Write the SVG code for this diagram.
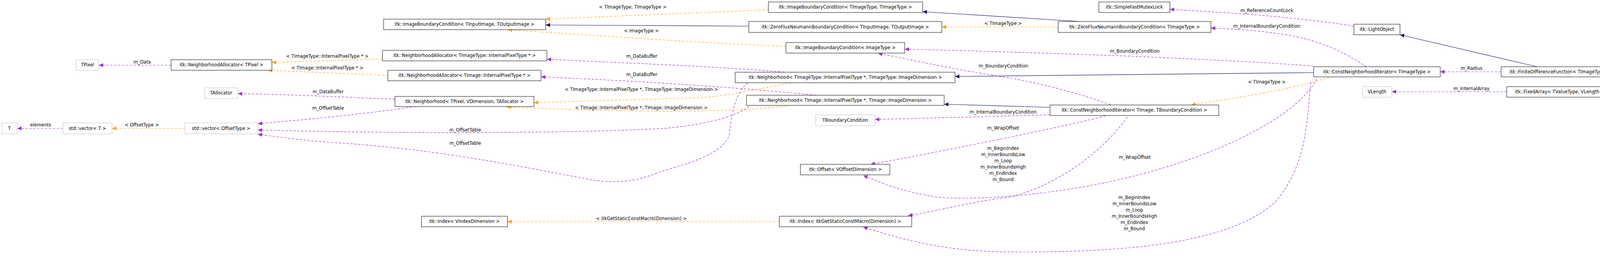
<svg xmlns="http://www.w3.org/2000/svg" width="5133" height="661" viewBox="0 0 5133 661">
<style>
.n rect{fill:#fff;stroke:#000;stroke-width:1}
.g rect{fill:#fff;stroke:#bfbfbf;stroke-width:1}
text{font-family:"DejaVu Sans",sans-serif;font-size:11.5px;fill:#000;text-anchor:middle}
.i{fill:none;stroke:#191970;stroke-width:1.2;marker-end:url(#mi)}
.t{fill:none;stroke:#ffa500;stroke-width:1.2;stroke-dasharray:6,4;marker-end:url(#mt)}
.u{fill:none;stroke:#9a32cd;stroke-width:1.2;stroke-dasharray:6,4;marker-end:url(#mu)}
</style>
<defs>
<marker id="mi" markerWidth="12" markerHeight="10" refX="11" refY="5" orient="auto" markerUnits="userSpaceOnUse"><path d="M0,0L11,5L0,10z" fill="#191970"/></marker>
<marker id="mt" markerWidth="12" markerHeight="10" refX="11" refY="5" orient="auto" markerUnits="userSpaceOnUse"><path d="M0,0L11,5L0,10z" fill="#ffa500"/></marker>
<marker id="mu" markerWidth="12" markerHeight="10" refX="11" refY="5" orient="auto" markerUnits="userSpaceOnUse"><path d="M0,0L11,5L0,10z" fill="#9a32cd"/></marker>
</defs>
<rect width="5133" height="661" fill="#fff"/>
<g id="connectors">
<path class="i" d="M4656,208L4605,208"/>
<path class="i" d="M4346,201L4144,192"/>
<path class="i" d="M3935,171L3584,89"/>
<path class="i" d="M2764,55L2362,30"/>
<path class="i" d="M1917,67L1397,64"/>
<path class="i" d="M3363,186L2445,196"/>
<path class="i" d="M2688,275L2417,267"/>
<path class="t" d="M1967,25L1397,49"/>
<path class="t" d="M2709,69L2411,69"/>
<path class="t" d="M2012,119C1800,110 1500,90 1300,76"/>
<path class="t" d="M979,151L696,160"/>
<path class="t" d="M993,193L686,180"/>
<path class="t" d="M2026,212C1950,225 1900,240 1800,250L1367,263"/>
<path class="t" d="M2021,271C1900,285 1700,292 1297,274"/>
<path class="t" d="M473,329L287,329"/>
<path class="t" d="M1995,568L1299,568"/>
<path class="t" d="M3403,198C3350,215 3250,240 3050,268"/>
<path class="u" d="M438,167L253,167"/>
<path class="u" d="M161,329L44,329"/>
<path class="u" d="M1011,254C900,250 750,242 609,240"/>
<path class="u" d="M1064,273C950,290 800,305 660,317"/>
<path class="u" d="M1914,212C1880,240 1872,300 1868,340C1860,400 1720,430 1690,440C1620,470 1560,470 1500,458C1300,420 1100,380 850,365C780,360 720,352 660,344"/>
<path class="u" d="M1925,266C1890,300 1800,320 1700,329C1400,345 900,340 660,333"/>
<path class="u" d="M2007,185C1900,175 1700,165 1400,152"/>
<path class="u" d="M2089,244C1950,230 1700,210 1385,197"/>
<path class="u" d="M3362,169C3100,150 2700,135 2316,126"/>
<path class="u" d="M2843,268C2750,235 2650,210 2550,194C2400,170 2320,150 2248,137"/>
<path class="u" d="M2687,294C2550,298 2400,302 2240,306"/>
<path class="u" d="M2830,297C2700,330 2400,390 2229,421"/>
<path class="u" d="M2886,300C2800,420 2650,500 2560,508C2450,525 2380,545 2325,552"/>
<path class="u" d="M3372,202C3300,330 3000,450 2700,490C2550,510 2450,510 2400,505C2300,490 2250,465 2210,450"/>
<path class="u" d="M3356,211C3345,300 3350,420 3263,519C3150,620 2900,650 2550,645C2400,640 2300,610 2210,582"/>
<path class="u" d="M3466,67C3300,40 3100,30 2995,24"/>
<path class="u" d="M3498,171C3450,140 3400,110 3300,90C3200,75 3150,74 3100,72"/>
<path class="u" d="M3843,184L3687,184"/>
<path class="u" d="M3857,235L3563,235"/>
<path class="u" d="M4346,220L4130,230"/>
<text x="1620" y="22">&lt; TImageType, TImageType &gt;</text>
<text x="2568" y="64">&lt; TImageType &gt;</text>
<text x="1642" y="83">&lt; ImageType &gt;</text>
<text x="838" y="148">&lt; TImageType::InternalPixelType * &gt;</text>
<text x="838" y="178">&lt; TImage::InternalPixelType * &gt;</text>
<text x="1642" y="233">&lt; TImageType::InternalPixelType *, TImageType::ImageDimension &gt;</text>
<text x="1642" y="280">&lt; TImage::InternalPixelType *, TImage::ImageDimension &gt;</text>
<text x="363" y="324">&lt; OffsetType &gt;</text>
<text x="1642" y="564">&lt; itkGetStaticConstMacro(Dimension) &gt;</text>
<text x="3243" y="214">&lt; TImageType &gt;</text>
<text x="364" y="163">m_Data</text>
<text x="104" y="324">elements</text>
<text x="840" y="239">m_DataBuffer</text>
<text x="840" y="281">m_OffsetTable</text>
<text x="1191" y="337">m_OffsetTable</text>
<text x="1191" y="371">m_OffsetTable</text>
<text x="1643" y="148">m_DataBuffer</text>
<text x="1643" y="195">m_DataBuffer</text>
<text x="2905" y="135">m_BoundaryCondition</text>
<text x="2569" y="173">m_BoundaryCondition</text>
<text x="2568" y="291">m_InternalBoundaryCondition</text>
<text x="2568" y="332">m_WrapOffset</text>
<text x="2568" y="384">m_BeginIndex</text>
<text x="2568" y="400">m_InnerBoundsLow</text>
<text x="2568" y="416">m_Loop</text>
<text x="2568" y="432">m_InnerBoundsHigh</text>
<text x="2568" y="448">m_EndIndex</text>
<text x="2568" y="464">m_Bound</text>
<text x="2905" y="407">m_WrapOffset</text>
<text x="2904" y="510">m_BeginIndex</text>
<text x="2904" y="526">m_InnerBoundsLow</text>
<text x="2904" y="542">m_Loop</text>
<text x="2904" y="558">m_InnerBoundsHigh</text>
<text x="2904" y="574">m_EndIndex</text>
<text x="2904" y="590">m_Bound</text>
<text x="3243" y="31">m_ReferenceCountLock</text>
<text x="3243" y="71">m_InternalBoundaryCondition</text>
<text x="3767" y="179">m_Radius</text>
<text x="3767" y="231">m_InternalArray</text>
<text x="4246" y="217">m_ZeroVectorConstant</text>
</g>
<g id="n_lsfwrt" class="n"><rect x="4656" y="195" width="471" height="26" style="fill:#bfbfbf"/><text x="4891" y="212">itk::LevelSetFunctionWithRefitTerm&lt; TImageType, TSparseImageType &gt;</text></g>
<g id="n_lsf" class="n"><rect x="4346" y="195" width="259" height="26"/><text x="4475" y="212">itk::LevelSetFunction&lt; TImageType &gt;</text></g>
<g id="n_fdf" class="n"><rect x="3843" y="171" width="301" height="26"/><text x="3993" y="188">itk::FiniteDifferenceFunction&lt; TImageType &gt;</text></g>
<g id="n_fixed" class="n"><rect x="3857" y="222" width="273" height="27"/><text x="3993" y="239">itk::FixedArray&lt; TValueType, VLength &gt;</text></g>
<g id="n_vlength" class="g"><rect x="3488" y="222" width="75" height="27"/><text x="3525" y="239">VLength</text></g>
<g id="n_light" class="n"><rect x="3466" y="62" width="118" height="27"/><text x="3525" y="79">itk::LightObject</text></g>
<g id="n_cni" class="n"><rect x="3363" y="171" width="324" height="26"/><text x="3525" y="188">itk::ConstNeighborhoodIterator&lt; TImageType &gt;</text></g>
<g id="n_mutex" class="n"><rect x="2813" y="5" width="182" height="27"/><text x="2904" y="22">itk::SimpleFastMutexLock</text></g>
<g id="n_zfn_t" class="n"><rect x="2709" y="55" width="391" height="28"/><text x="2904" y="73">itk::ZeroFluxNeumannBoundaryCondition&lt; TImageType &gt;</text></g>
<g id="n_cni2" class="n"><rect x="2688" y="269" width="432" height="27"/><text x="2904" y="286">itk::ConstNeighborhoodIterator&lt; TImage, TBoundaryCondition &gt;</text></g>
<g id="n_ibc_tt" class="n"><rect x="1967" y="5" width="395" height="27"/><text x="2164" y="22">itk::ImageBoundaryCondition&lt; TImageType, TImageType &gt;</text></g>
<g id="n_zfn_io" class="n"><rect x="1917" y="55" width="494" height="28"/><text x="2164" y="73">itk::ZeroFluxNeumannBoundaryCondition&lt; TInputImage, TOutputImage &gt;</text></g>
<g id="n_ibc_i" class="n"><rect x="2012" y="109" width="304" height="27"/><text x="2164" y="126">itk::ImageBoundaryCondition&lt; ImageType &gt;</text></g>
<g id="n_nb_tt" class="n"><rect x="1882" y="185" width="563" height="27"/><text x="2164" y="202">itk::Neighborhood&lt; TImageType::InternalPixelType *, TImageType::ImageDimension &gt;</text></g>
<g id="n_nb_ti" class="n"><rect x="1911" y="244" width="506" height="26"/><text x="2164" y="261">itk::Neighborhood&lt; TImage::InternalPixelType *, TImage::ImageDimension &gt;</text></g>
<g id="n_tbc" class="g"><rect x="2088" y="294" width="152" height="28"/><text x="2164" y="312">TBoundaryCondition</text></g>
<g id="n_offset" class="n"><rect x="2049" y="421" width="229" height="27"/><text x="2164" y="438">itk::Offset&lt; VOffsetDimension &gt;</text></g>
<g id="n_index2" class="n"><rect x="1995" y="554" width="339" height="27"/><text x="2164" y="571">itk::Index&lt; itkGetStaticConstMacro(Dimension) &gt;</text></g>
<g id="n_ibc_io" class="n"><rect x="982" y="49" width="415" height="27"/><text x="1189" y="66">itk::ImageBoundaryCondition&lt; TInputImage, TOutputImage &gt;</text></g>
<g id="n_na_tt" class="n"><rect x="979" y="129" width="421" height="27"/><text x="1189" y="146">itk::NeighborhoodAllocator&lt; TImageType::InternalPixelType * &gt;</text></g>
<g id="n_na_ti" class="n"><rect x="993" y="180" width="392" height="27"/><text x="1189" y="197">itk::NeighborhoodAllocator&lt; TImage::InternalPixelType * &gt;</text></g>
<g id="n_nb" class="n"><rect x="1011" y="247" width="356" height="26"/><text x="1189" y="264">itk::Neighborhood&lt; TPixel, VDimension, TAllocator &gt;</text></g>
<g id="n_index" class="n"><rect x="1079" y="554" width="220" height="27"/><text x="1189" y="571">itk::Index&lt; VIndexDimension &gt;</text></g>
<g id="n_na" class="n"><rect x="438" y="153" width="258" height="27"/><text x="567" y="170">itk::NeighborhoodAllocator&lt; TPixel &gt;</text></g>
<g id="n_tpixel" class="g"><rect x="195" y="153" width="58" height="27"/><text x="224" y="170">TPixel</text></g>
<g id="n_talloc" class="g"><rect x="524" y="225" width="85" height="27"/><text x="566" y="242">TAllocator</text></g>
<g id="n_vecoff" class="g"><rect x="473" y="315" width="187" height="28"/><text x="566" y="333">std::vector&lt; OffsetType &gt;</text></g>
<g id="n_vect" class="g"><rect x="161" y="315" width="126" height="28"/><text x="224" y="333">std::vector&lt; T &gt;</text></g>
<g id="n_t" class="g"><rect x="5" y="315" width="39" height="28"/><text x="24" y="333">T</text></g>
</svg>
